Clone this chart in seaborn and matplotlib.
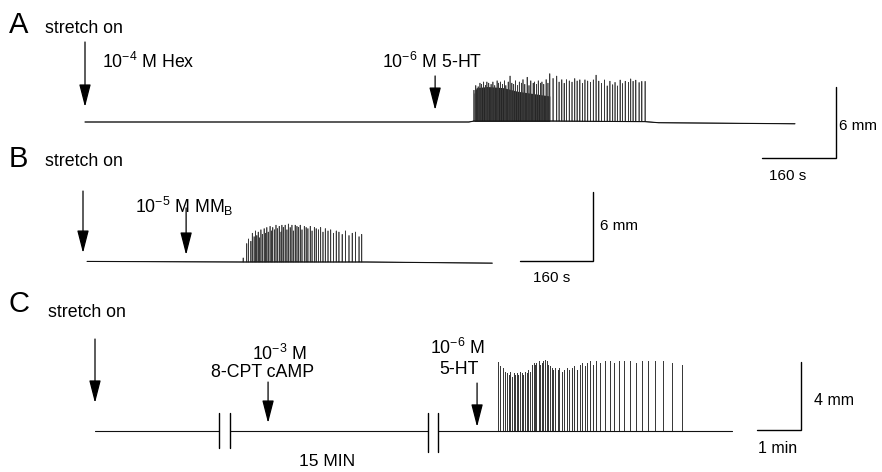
import numpy as np
import pandas as pd
import matplotlib
matplotlib.use("Agg")
import matplotlib.pyplot as plt
import seaborn as sns

# ------------------------------------------------------------------ data
# Panel A: time (s) from "stretch on", amplitude (mm)
A_base_t = [0, 830, 841, 1005, 1211, 1240, 1535]
A_base_y = [0.0, 0.0, 0.08, 0.08, 0.03, -0.06, -0.15]
A_spike_t = [841, 845, 850, 854, 857, 862, 866, 869, 873, 878,
             882, 886, 891, 894, 898, 903, 907, 910, 915, 919,
             923, 927, 931, 935, 939, 944, 947, 951, 956, 960,
             964, 969, 972, 976, 980, 985, 988, 992, 997, 1001,
             1005, 1012, 1020, 1025, 1031, 1036, 1041, 1047, 1053, 1059,
             1064, 1070, 1076, 1081, 1087, 1093, 1099, 1105, 1111, 1117,
             1123, 1129, 1135, 1141, 1146, 1151, 1157, 1162, 1168, 1175,
             1180, 1185, 1191, 1198, 1204, 1211]
A_spike_h = [2.6, 3.0, 2.9, 3.2, 3.1, 3.3, 3.0, 3.3, 3.2, 3.1,
             3.3, 3.0, 3.4, 3.2, 3.3, 3.1, 3.4, 3.0, 3.3, 3.8,
             3.2, 3.1, 3.4, 3.0, 3.3, 3.2, 3.5, 3.1, 3.7, 3.0,
             3.4, 3.2, 3.3, 3.1, 3.4, 3.2, 3.3, 3.1, 3.5, 3.2,
             4.0, 3.6, 3.8, 3.3, 3.5, 3.2, 3.5, 3.4, 3.3, 3.6,
             3.4, 3.5, 3.2, 3.5, 3.4, 3.3, 3.5, 3.9, 3.4, 3.2,
             3.5, 3.0, 3.4, 3.1, 3.3, 3.0, 3.5, 3.2, 3.4, 3.3,
             3.6, 3.4, 3.5, 3.3, 3.4, 3.4]
A_fill_t = [841, 846, 870, 905, 935, 970, 1005]
A_fill_top = [2.4, 2.9, 3.0, 2.9, 2.6, 2.4, 2.2]
A_stim_t = [0, 757]           # stretch on, 5-HT
A_scale = (160, 6)            # s, mm

# Panel B
B_base_t = [9, 350, 620, 897]
B_base_y = [0.05, 0.0, 0.0, -0.1]
B_spike_t = [351,
             359, 363, 368, 371, 375, 378, 381, 384, 387, 390,
             393, 397, 400, 403, 406, 410, 413, 416, 420, 423,
             426, 430, 434, 436, 439, 443, 447, 450, 454, 458,
             461, 465, 469, 472, 476, 480, 485, 489, 493, 498,
             502, 507, 511, 516, 521, 526, 531, 537, 543, 549,
             555, 561, 568, 575, 583, 590, 597, 605, 611]
B_spike_h = [0.35,
             1.6, 2.0, 1.8, 2.5, 2.2, 2.7, 2.3, 2.6, 2.1, 2.8,
             2.4, 2.9, 2.5, 3.0, 2.6, 3.1, 2.7, 3.0, 2.8, 3.2,
             2.9, 3.1, 2.6, 3.2, 3.0, 3.2, 2.8, 3.3, 3.0, 3.2,
             2.7, 3.2, 3.1, 3.0, 3.2, 2.8, 3.1, 3.0, 2.9, 3.1,
             2.7, 3.0, 2.9, 2.8, 3.0, 2.6, 2.9, 2.7, 2.8, 2.5,
             2.7, 2.6, 2.4, 2.7, 2.3, 2.5, 2.6, 2.2, 2.4]
B_stim_t = [0, 226]           # stretch on, MMB
B_scale = (160, 6)

# Panel C (time axis broken twice; displayed time in s)
C_seg_start = [0, 184, 468]
C_seg_end = [169, 454, 869]
C_breaks = [169, 184, 454, 468]
C_spike_t = [550, 552, 557, 559, 562, 564, 566, 568, 571, 573,
             575, 577, 580, 582, 584, 587, 589, 591, 593, 596,
             598, 600, 602, 605, 607, 609, 611, 614, 616, 618,
             621, 623, 625, 627, 631, 633, 637, 640, 643, 647,
             650, 653, 657, 661, 664, 668, 671, 675, 679, 683,
             689, 696, 702, 708, 715, 722, 730, 738, 746, 754,
             763, 774, 787, 800]
C_spike_h = [4.05, 3.8, 3.7, 3.5, 3.4, 3.3, 3.5, 3.2, 3.4, 3.3,
             3.4, 3.3, 3.5, 3.4, 3.3, 3.5, 3.4, 3.6, 3.5, 3.9,
             4.0, 3.9, 4.0, 4.1, 3.9, 4.0, 4.1, 4.2, 4.1, 3.9,
             3.8, 3.7, 3.6, 3.7, 3.6, 3.7, 3.5, 3.6, 3.7, 3.6,
             3.7, 3.8, 3.6, 3.9, 4.0, 3.8, 4.0, 4.1, 3.9, 4.1,
             4.0, 4.1, 4.1, 4.0, 4.1, 4.1, 4.1, 4.0, 4.1, 4.1,
             4.1, 4.1, 4.0, 3.9]
C_stim_t = [0, 236, 521]      # stretch on, 8-CPT cAMP, 5-HT
C_scale = (60, 4)             # s, mm

# ------------------------------------------------------------------ style
sns.set_theme(style="white")
plt.rcParams["font.family"] = ["Liberation Sans", "DejaVu Sans"]
plt.rcParams["mathtext.fontset"] = "custom"
plt.rcParams["mathtext.rm"] = "Liberation Sans"
plt.rcParams["mathtext.it"] = "Liberation Sans:italic"
plt.rcParams["mathtext.bf"] = "Liberation Sans:bold"
plt.rcParams["mathtext.default"] = "regular"

W, H, DPI = 882, 472, 100
fig = plt.figure(figsize=(W / DPI, H / DPI), dpi=DPI, facecolor="white")
INK = "#111111"
SPIKE = "#3a3a3a"


def panel_axes(x0, y0, sx, sy):
    """Full-figure transparent axes; x0,y0 = pixel of (t=0, baseline)."""
    ax = fig.add_axes([0, 0, 1, 1])
    ax.set_xlim(-x0 / sx, (W - x0) / sx)
    ax.set_ylim((y0 - H) / sy, y0 / sy)
    ax.set_axis_off()
    ax.patch.set_alpha(0)
    return ax


def build_trace(base_t, base_y, spk_t, spk_h):
    bt = np.asarray(base_t, float)
    by = np.asarray(base_y, float)
    rows = [(t, y) for t, y in zip(bt, by)]
    for t, h in zip(spk_t, spk_h):
        b = float(np.interp(t, bt, by))
        rows += [(t, b), (t, b + h), (t, b)]
    rows.sort(key=lambda r: r[0])
    return pd.DataFrame(rows, columns=["t", "y"])


def draw_trace(ax, base_t, base_y, spk_t, spk_h, lw_spike=0.5, lw_base=0.8):
    df = build_trace(base_t, base_y, spk_t, spk_h)
    sns.lineplot(data=df, x="t", y="y", sort=False, estimator=None,
                 color=SPIKE, lw=lw_spike, ax=ax, legend=False)
    base = pd.DataFrame({"t": base_t, "y": base_y})
    sns.lineplot(data=base, x="t", y="y", sort=False, estimator=None,
                 color=INK, lw=lw_base, ax=ax, legend=False)


def arrow(ax, t, y_top, y_tip):
    ax.annotate("", xy=(t, y_tip), xytext=(t, y_top),
                arrowprops=dict(arrowstyle="-|>,head_length=1.4,head_width=0.36",
                                color="black", lw=0.9, shrinkA=0, shrinkB=0,
                                mutation_scale=10))


def scalebar(ax, t_corner, y_corner, dt, dy):
    ax.plot([t_corner - dt, t_corner, t_corner],
            [y_corner, y_corner, y_corner + dy], color="black", lw=1.0,
            solid_joinstyle="miter")


def txt(x, y, s, size=12, ha="left", **kw):
    fig.text(x / W, 1 - y / H, s, fontsize=size, ha=ha, va="baseline",
             color="black", **kw)


# ------------------------------------------------------------------ panel A
axA = panel_axes(85, 122, 74 / 160, 71 / 6)
axA.fill_between(A_fill_t, 0.05, A_fill_top, color="black", lw=0, alpha=0.85)
draw_trace(axA, A_base_t, A_base_y, A_spike_t, A_spike_h)
arrow(axA, A_stim_t[0], 6.76, 1.27)
arrow(axA, A_stim_t[1], 3.89, 1.01)
scalebar(axA, 1624, -3.04, *A_scale)

txt(9, 33, "A", size=21)
txt(45, 33, "stretch on", size=12.8)
txt(102, 68, r"10$^{-4}$ M Hex", size=12.8)
txt(382, 68, r"10$^{-6}$ M 5-HT", size=12.8)
txt(839, 130, "6 mm", size=11)
txt(788, 180, "160 s", size=11, ha="center")

# ------------------------------------------------------------------ panel B
axB = panel_axes(83, 262, 73 / 160, 69 / 6)
draw_trace(axB, B_base_t, B_base_y, B_spike_t, B_spike_h)
arrow(axB, B_stim_t[0], 6.17, 0.78)
arrow(axB, B_stim_t[1], 4.7, 0.61)
scalebar(axB, 1118, 0.09, *B_scale)

txt(9, 167, "B", size=21)
txt(45, 166, "stretch on", size=12.8)
txt(135, 213, r"10$^{-5}$ M MM$_{B}$", size=12.8)
txt(600, 230, "6 mm", size=11)
txt(552, 282, "160 s", size=11, ha="center")

# ------------------------------------------------------------------ panel C
axC = panel_axes(95, 431, 44 / 60, 68 / 4)
for i, (s, e) in enumerate(zip(C_seg_start, C_seg_end)):
    if i == len(C_seg_start) - 1:
        draw_trace(axC, [s, e], [0, 0], C_spike_t, C_spike_h)
    else:
        draw_trace(axC, [s, e], [0, 0], [], [])
for j, tb in enumerate(C_breaks):
    low = -1.0 if j < 2 else -1.24
    axC.plot([tb, tb], [low, 1.06], color="black", lw=1.0)
arrow(axC, C_stim_t[0], 5.41, 1.65)
arrow(axC, C_stim_t[1], 2.88, 0.47)
arrow(axC, C_stim_t[2], 2.82, 0.24)
scalebar(axC, 963, 0.06, *C_scale)

txt(8, 312, "C", size=21)
txt(48, 317, "stretch on", size=12.8)
txt(252, 360, r"10$^{-3}$ M", size=12.8)
txt(263, 377, "8-CPT cAMP", size=12.8, ha="center")
txt(430, 354, r"10$^{-6}$ M", size=12.8)
txt(459, 374, "5-HT", size=12.8, ha="center")
txt(327, 466, "15 MIN", size=12.5, ha="center")
txt(814, 405, "4 mm", size=11.5)
txt(778, 453, "1 min", size=11.5, ha="center")

fig.savefig("out.png", dpi=DPI, facecolor="white")
